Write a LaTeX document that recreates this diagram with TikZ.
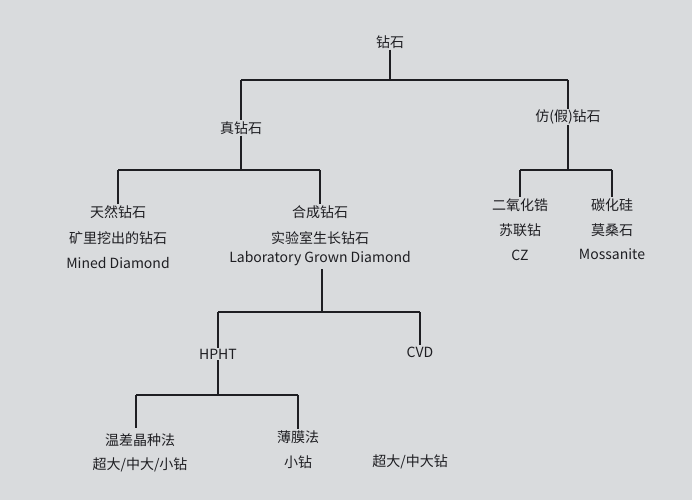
\documentclass[tikz,border=0pt]{standalone}
\usepackage{fontspec}
\setmainfont{Liberation Sans}
\newfontfamily\cjk{Noto Sans CJK SC}
\definecolor{bg}{HTML}{D9DBDD}
\definecolor{ink}{HTML}{1E1E22}
\begin{document}
\begin{tikzpicture}[x=1pt,y=-1pt,
  lbl/.style={text=ink,font=\cjk\fontsize{14}{16}\selectfont,inner sep=1pt,align=center},
  ln/.style={draw=ink,line width=1.3pt}]
\fill[bg] (0,0) rectangle (692,500);
\useasboundingbox (0,0) rectangle (692,500);
\node[lbl] (root) at (390,42) {钻石};
\node[lbl] (real) at (241,128) {真钻石};
\node[lbl] (fake) at (568,117) {仿(假)钻石};
\node[lbl] (nat1) at (118,212) {天然钻石};
\node[lbl] (nat2) at (118,238) {矿里挖出的钻石};
\node[lbl] (nat3) at (118,263) {Mined Diamond};
\node[lbl] (syn1) at (320,212) {合成钻石};
\node[lbl] (syn2) at (320,238) {实验室生长钻石};
\node[lbl] (syn3) at (320,259) {Laboratory Grown Diamond};
\node[lbl] (cz1) at (520,205) {二氧化锆};
\node[lbl] (cz2) at (520,230) {苏联钻};
\node[lbl] (cz3) at (520,255) {CZ};
\node[lbl] (mo1) at (612,205) {碳化硅};
\node[lbl] (mo2) at (612,230) {莫桑石};
\node[lbl] (mo3) at (612,254) {Mossanite};
\node[lbl] (hpht) at (218,354) {HPHT};
\node[lbl] (cvd) at (420,352) {CVD};
\node[lbl] (t1) at (140,440) {温差晶种法};
\node[lbl] (t2) at (140,465) {超大/中大/小钻};
\node[lbl] (f1) at (298,437) {薄膜法};
\node[lbl] (f2) at (298,462) {小钻};
\node[lbl] (c2) at (410,462) {超大/中大钻};
\draw[ln] (root.south) -- (390,80) coordinate (j1);
\draw[ln] (real.north |- j1) -- (fake.north |- j1);
\draw[ln] (real.north |- j1) -- (real.north);
\draw[ln] (fake.north |- j1) -- (fake.north);
\draw[ln] (real.south) -- (241,170) coordinate (j2);
\draw[ln] (nat1.north |- j2) -- (syn1.north |- j2);
\draw[ln] (nat1.north |- j2) -- (nat1.north);
\draw[ln] (syn1.north |- j2) -- (syn1.north);
\draw[ln] (fake.south) -- (568,170) coordinate (j3);
\draw[ln] (cz1.north |- j3) -- (mo1.north |- j3);
\draw[ln] (cz1.north |- j3) -- (cz1.north);
\draw[ln] (mo1.north |- j3) -- (mo1.north);
\draw[ln] (322,269) -- (322,312) coordinate (j4);
\draw[ln] (hpht.north |- j4) -- (cvd.north |- j4);
\draw[ln] (hpht.north |- j4) -- (hpht.north);
\draw[ln] (cvd.north |- j4) -- (cvd.north);
\draw[ln] (hpht.south) -- (218,395) coordinate (j5);
\draw[ln] (136,395) -- (f1.north |- j5);
\draw[ln] (136,395) -- (136,428);
\draw[ln] (f1.north |- j5) -- (f1.north);
\end{tikzpicture}
\end{document}
